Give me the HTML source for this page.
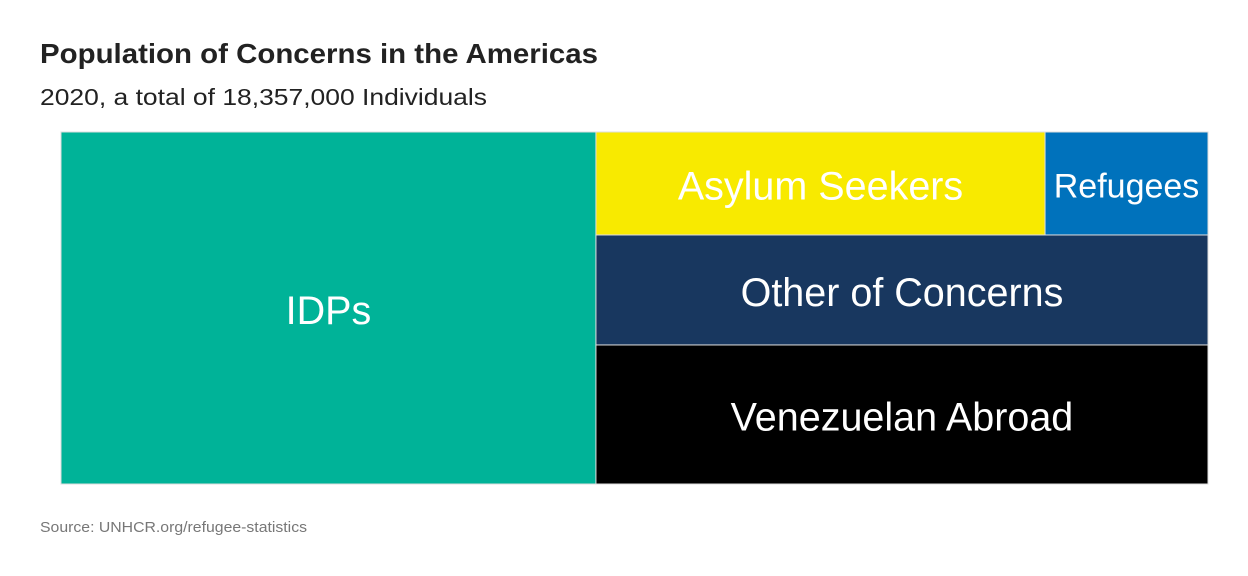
<!DOCTYPE html>
<html><head><meta charset="utf-8"><style>
html,body{margin:0;padding:0;background:#fff;width:1248px;height:576px;overflow:hidden}
svg text{font-family:"Liberation Sans",sans-serif}
</style></head><body>
<svg id="chart" width="1248" height="576" viewBox="0 0 1248 576">
<text x="40" y="63" font-size="28" font-weight="bold" fill="#222" textLength="558" lengthAdjust="spacingAndGlyphs">Population of Concerns in the Americas</text>
<text x="40" y="105" font-size="23" fill="#222" textLength="447" lengthAdjust="spacingAndGlyphs">2020, a total of 18,357,000 Individuals</text>
<text x="40" y="532" font-size="15" fill="#777" textLength="267" lengthAdjust="spacingAndGlyphs">Source: UNHCR.org/refugee-statistics</text>
<g id="cells"></g>
</svg>
<script>
const categories = ["IDPs","Asylum Seekers","Refugees","Other of Concerns","Venezuelan Abroad"];
const values = [8562000, 2103000, 763000, 3061000, 3869000];
const colors = ["#00B398","#F8EA00","#0072BC","#18375F","#000000"];
const fontSizes = [39.5,39.5,34,39.5,39.5];

const X0=61, Y0=132, W=1147, H=352;
const g=document.getElementById('cells');
const NS="http://www.w3.org/2000/svg";
const total=values.reduce((a,b)=>a+b,0);
const rects=[];
const w0=W*values[0]/total;
rects[0]={x:X0,y:Y0,w:w0,h:H};
const rx=X0+w0, rw=W-w0, rest=total-values[0];
const rows=[[1,2],[3],[4]];
let y=Y0;
rows.forEach(r=>{
  const s=r.reduce((a,i)=>a+values[i],0);
  const h=H*s/rest;
  let x=rx;
  r.forEach(i=>{const w=rw*values[i]/s;rects[i]={x:x,y:y,w:w,h:h};x+=w;});
  y+=h;
});
rects.forEach((r,i)=>{
  const rect=document.createElementNS(NS,'rect');
  
  
  rect.setAttribute('x',r.x);rect.setAttribute('y',r.y);
  rect.setAttribute('width',r.w);rect.setAttribute('height',r.h);
  rect.setAttribute('fill',colors[i]);rect.setAttribute('stroke','#ddd');rect.setAttribute('stroke-width','1');
  g.appendChild(rect);
  const t=document.createElementNS(NS,'text');
  
  
  t.setAttribute('x',r.x+r.w/2);t.setAttribute('y',r.y+r.h/2+3);
  t.setAttribute('text-anchor','middle');t.setAttribute('dominant-baseline','central');
  t.setAttribute('font-size',fontSizes[i]);t.setAttribute('fill','#fff');
  t.textContent=categories[i];
  g.appendChild(t);
});
</script>
</body></html>
